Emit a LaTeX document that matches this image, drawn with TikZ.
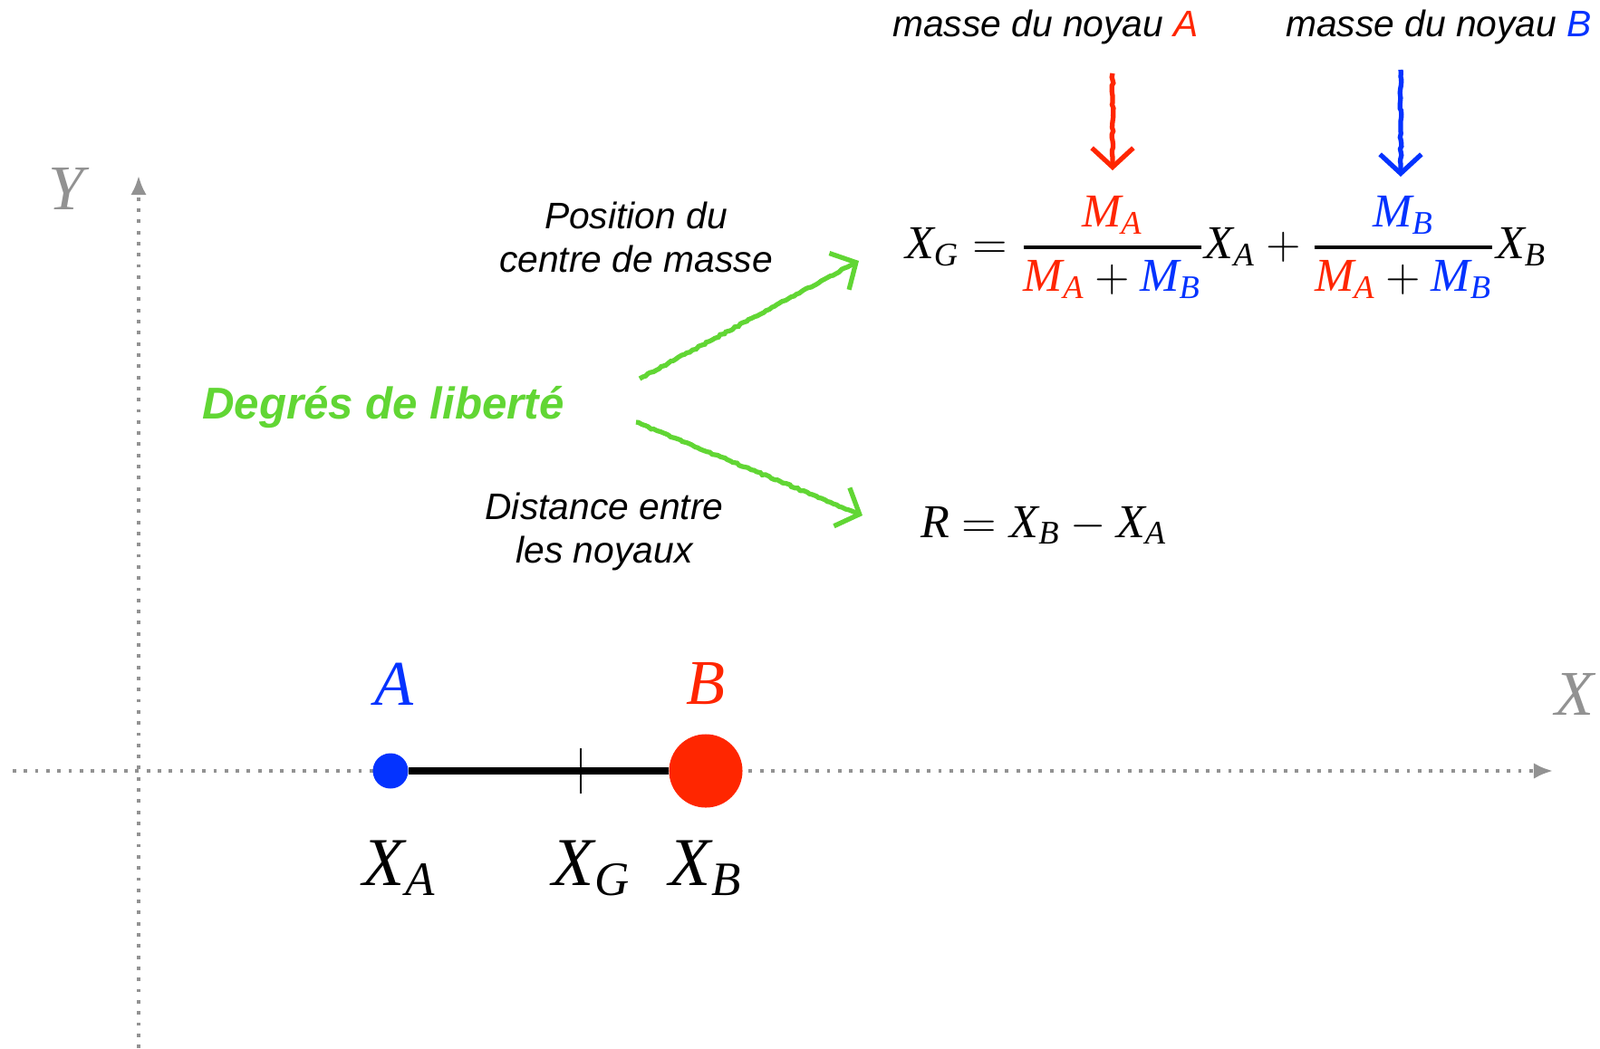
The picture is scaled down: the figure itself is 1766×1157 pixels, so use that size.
\documentclass[tikz,border=0pt]{standalone}
\usepackage[dvipsnames,rgb]{xcolor}
\usepackage{amsmath}
\usepackage{fontspec}
\setsansfont{Liberation Sans}
\newfontfamily\mathserif{Liberation Serif}
\newcommand{\mvar}[1]{\text{\mathserif\itshape #1}}
\newcommand{\mfrac}[2]{\genfrac{}{}{1.2pt}{0}{#1}{#2}}
\usepackage{tikz}
\usetikzlibrary{arrows.meta, decorations.pathmorphing}
\definecolor{axisgray}{RGB}{146,146,146}
\definecolor{chalkgreen}{RGB}{97,214,52}
\definecolor{nucred}{RGB}{255,38,0}
\definecolor{nucblue}{RGB}{4,51,255}
\tikzset{every picture/.style={/utils/exec={\sffamily}}}

\begin{document}
\begin{tikzpicture}[x=0.01cm, y=-0.01cm,
    axis/.style={axisgray, line width=1.1pt, dash pattern=on 1.1pt off 2.4pt, -{Latex[length=6pt, width=5pt]}},
    crayon/.style={line width=1.5pt, decorate, decoration={random steps, segment length=1pt, amplitude=0.25pt, post length=4pt}, -{Straight Barb[length=6pt, width=13pt]}},
    note/.style={font=\fontsize{11.6}{13.7}\selectfont\itshape, align=center},
    bigsym/.style={font=\fontsize{20}{24}\selectfont},
    eq/.style={font=\fontsize{14.8}{18}\selectfont}]
    \useasboundingbox (0, 0) rectangle (1766, 1157);

    % axes
    \coordinate (xs) at (14, 851);
    \coordinate (xe) at (1714, 851);
    \coordinate (ys) at (153, 1157);
    \coordinate (ye) at (153, 194);
    \draw[axis] (xs) -- (xe);
    \draw[axis] (ys) -- (ye);
    \node[bigsym, text=axisgray] (ly) at (73, 208) {$\mvar{Y}$};
    \node[bigsym, text=axisgray] (lx) at (1738, 766) {$\mvar{X}$};

    % molecule
    \node[circle, fill=nucblue, minimum size=0.39cm, inner sep=0pt] (a) at (431, 851) {};
    \node[circle, fill=nucred, minimum size=0.81cm, inner sep=0pt] (b) at (779, 851) {};
    \draw[line width=2pt] (a) -- (b);
    \coordinate (g) at (641, 851);
    \draw[line width=0.8pt] (g) ++(0, -25) -- ++(0, 50);
    \node[bigsym, text=nucblue] (la) at (435, 755) {$\mvar{A}$};
    \node[bigsym, text=nucred] (lb) at (779, 755) {$\mvar{B}$};
    \node[bigsym, font=\fontsize{21.5}{24}\selectfont] (xa) at (441, 958) {$\mvar{X}_{\mvar{A}}$};
    \node[bigsym, font=\fontsize{21.5}{24}\selectfont] (xg) at (653, 958) {$\mvar{X}_{\mvar{G}}$};
    \node[bigsym, font=\fontsize{21.5}{24}\selectfont] (xb) at (779, 958) {$\mvar{X}_{\mvar{B}}$};

    % degrees of freedom
    \node[font=\fontsize{14}{17}\selectfont\bfseries\itshape, text=chalkgreen] (dof) at (423, 450) {Degrés de liberté};
    \node[note] (pos) at (702, 262) {Position du\\centre de masse};
    \node[note] (dist) at (667, 587) {Distance entre\\les noyaux};
    \coordinate (g1s) at (706, 418);
    \coordinate (g1e) at (948, 288);
    \coordinate (g2s) at (702, 466);
    \coordinate (g2e) at (952, 569);
    \draw[crayon, chalkgreen] (g1s) -- (g1e);
    \draw[crayon, chalkgreen] (g2s) -- (g2e);

    % formulas
    \node[eq] (cm) at (1353, 273) {$\mvar{X}_{\mvar{G}} = \mfrac{\textcolor{nucred}{\mvar{M}_{\mvar{A}}}}{\textcolor{nucred}{\mvar{M}_{\mvar{A}}} + \textcolor{nucblue}{\mvar{M}_{\mvar{B}}}} \mvar{X}_{\mvar{A}} + \mfrac{\textcolor{nucblue}{\mvar{M}_{\mvar{B}}}}{\textcolor{nucred}{\mvar{M}_{\mvar{A}}} + \textcolor{nucblue}{\mvar{M}_{\mvar{B}}}} \mvar{X}_{\mvar{B}}$};
    \node[eq] (r) at (1152, 580) {$\mvar{R} = \mvar{X}_{\mvar{B}} - \mvar{X}_{\mvar{A}}$};

    % masses
    \node[note] (ma) at (1154, 30) {masse du noyau \textcolor{nucred}{A}};
    \node[note] (mb) at (1588, 30) {masse du noyau \textcolor{nucblue}{B}};
    \coordinate (ra1) at (1228, 81);
    \coordinate (ra2) at (1228, 188);
    \coordinate (ba1) at (1546, 77);
    \coordinate (ba2) at (1546, 195);
    \draw[crayon, nucred] (ra1) -- (ra2);
    \draw[crayon, nucblue] (ba1) -- (ba2);
\end{tikzpicture}
\end{document}
